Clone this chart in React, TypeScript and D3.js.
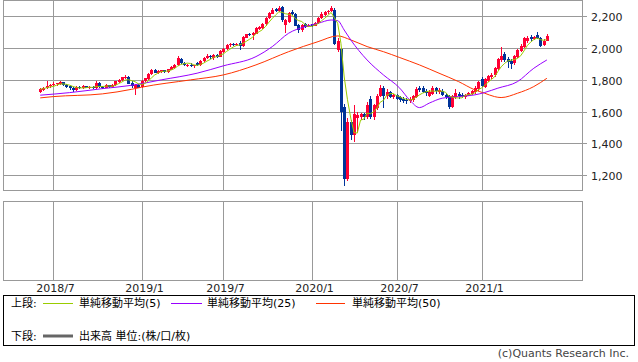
import React from "react";
import * as d3 from "d3";

// weekly candles, first one is the week of 2018/6/4
const firstWeek = new Date(2018, 5, 4);

const open = [1725,1738,1745,1758,1765,1770,1775,1785,1768,1758, 1748,1736,1755,1746,1758,1748,1755,1745,1780,1756,
  1748,1764,1752,1765,1788,1796,1812,1818,1778,1745, 1768,1752,1792,1805,1835,1862,1842,1850,1860,1848,
  1862,1875,1892,1932,1905,1888,1892,1885,1905,1890, 1918,1935,1952,1938,1955,1945,1975,1990,2015,2025,
  2015,2030,2010,2065,2088,2078,2090,2118,2125,2148, 2185,2215,2242,2230,2255,2145,2165,2225,2212,2142,
  2110,2148,2132,2148,2140,2155,2188,2205,2222,2230, 2240,1985,1995,1630,1175,1535,1452,1560,1565,1585,
  1565,1680,1565,1622,1700,1748,1695,1722,1690,1702, 1690,1680,1675,1665,1672,1692,1750,1745,1730,1700,
  1712,1745,1722,1732,1705,1700,1630,1690,1712,1705, 1690,1700,1712,1722,1742,1802,1755,1795,1815,1828,
  1868,1922,1962,1930,1920,1902,1942,1980,2005,2040, 2070,2055,2078,2062,2015,2045];

const high = [1745,1752,1792,1775,1785,1782,1790,1788,1772,1765, 1752,1760,1762,1765,1762,1760,1758,1790,1785,1762,
  1770,1768,1772,1795,1805,1818,1828,1822,1790,1772, 1775,1800,1812,1842,1870,1868,1858,1862,1864,1870,
  1885,1900,1948,1938,1910,1900,1902,1895,1912,1925, 1940,1960,1958,1962,1960,1985,2000,2025,2030,2028,
  2030,2040,2075,2090,2095,2100,2128,2135,2158,2195, 2225,2252,2250,2265,2260,2182,2228,2240,2218,2150,
  2150,2155,2150,2152,2160,2195,2222,2232,2240,2262, 2248,2060,2002,1650,1560,1548,1642,1600,1592,1592,
  1660,1700,1650,1712,1768,1760,1740,1728,1712,1708, 1700,1690,1685,1690,1705,1752,1762,1762,1742,1738,
  1762,1755,1748,1740,1715,1705,1702,1742,1720,1715, 1712,1725,1735,1762,1795,1815,1810,1830,1842,1880,
  1935,2005,1975,1940,1932,1958,1995,2022,2070,2075, 2082,2075,2100,2070,2055,2088];

const low = [1718,1730,1740,1750,1758,1762,1768,1760,1748,1738, 1725,1730,1742,1740,1745,1742,1740,1742,1750,1740,
  1745,1750,1748,1762,1782,1792,1805,1770,1748,1705, 1745,1748,1785,1800,1830,1840,1838,1845,1845,1845,
  1858,1870,1888,1900,1885,1880,1880,1875,1885,1885, 1912,1930,1932,1925,1935,1940,1970,1985,2008,2010,
  2010,1985,2005,2060,2075,2050,2085,2110,2118,2140, 2180,2210,2225,2225,2165,2095,2158,2205,2135,2095,
  2100,2125,2128,2132,2135,2150,2180,2198,2210,2225, 2015,1975,1475,1135,1165,1420,1410,1470,1545,1550,
  1555,1555,1548,1610,1690,1625,1680,1685,1680,1675, 1660,1655,1650,1655,1662,1685,1720,1715,1700,1690,
  1702,1712,1710,1698,1682,1618,1620,1680,1682,1685, 1680,1695,1702,1712,1732,1752,1745,1785,1805,1818,
  1858,1912,1912,1872,1865,1895,1935,1975,2000,2030, 2045,2050,2055,2005,2010,2040];

const close = [1740,1748,1762,1768,1772,1778,1785,1765,1755,1745, 1738,1755,1748,1758,1750,1756,1746,1782,1755,1748,
  1765,1755,1768,1790,1800,1815,1820,1775,1760,1768, 1750,1795,1808,1838,1862,1845,1852,1858,1850,1865,
  1878,1895,1935,1905,1890,1895,1886,1890,1890,1920, 1935,1950,1940,1955,1945,1978,1992,2018,2022,2015,
  2025,2010,2068,2085,2080,2092,2122,2128,2150,2188, 2220,2240,2232,2250,2175,2175,2220,2212,2140,2110,
  2145,2130,2145,2140,2155,2190,2215,2225,2232,2248, 2025,2042,1595,1175,1535,1450,1585,1580,1582,1565,
  1640,1565,1640,1700,1748,1700,1722,1692,1705,1680, 1670,1665,1668,1678,1700,1742,1735,1725,1718,1722,
  1745,1728,1738,1705,1690,1628,1695,1715,1700,1695, 1705,1718,1728,1745,1788,1762,1802,1822,1832,1872,
  1928,1950,1925,1910,1900,1948,1985,2010,2062,2065, 2055,2068,2060,2010,2045,2075];

// moving averages at these week indices
const ma25Weeks = [0,9,19,28,37,48,56,66,71,76,81,85,89,91,93,95,100,105,110,113,116,119,123,128,133,136,140,146,151,155];
const ma25 = [1703,1719,1744,1765,1799,1841,1887,1945,2008,2092,2133,2154,2175,2171,2112,2050,1924,1830,1747,1673,1625,1653,1684,1694,1705,1720,1747,1788,1872,1924];
const ma50Weeks = [0,4,19,28,31,46,56,66,76,85,91,95,100,105,110,116,122,128,133,136,139,141,146,151,155];
const ma50 = [1686,1694,1711,1740,1753,1799,1830,1893,1976,2039,2075,2050,2008,1976,1939,1893,1841,1788,1736,1715,1694,1688,1715,1757,1809];

const priceTicks = [1200, 1400, 1600, 1800, 2000, 2200];
const dateTicks = [new Date(2018, 6, 2), new Date(2019, 0, 7), new Date(2019, 6, 1), new Date(2020, 0, 6), new Date(2020, 6, 6), new Date(2021, 0, 4)];
const dateLabels = ["2018/7", "2019/1", "2019/7", "2020/1", "2020/7", "2021/1"];

const UP = "#ff0033";
const DOWN = "#003399";
const GRID = "#999999";
const FONT = "'DejaVu Sans', 'Noto Sans CJK JP', sans-serif";

export default function App() {
  const left = 3.5, right = 582.5;
  const top = 0.5, bottom = 190.5;
  const volTop = 201.5, volBottom = 280.5;

  const x = d3.scaleTime()
    .domain([dateTicks[0], dateTicks[5]])
    .range([53.3, 481.5]);
  const y = d3.scaleLinear().domain([1200, 2200]).range([175.3, 16]);

  const weeks = close.map((_, i) => d3.timeMonday.offset(firstWeek, i));
  const ma5 = close.map((_, i) => d3.mean(close.slice(Math.max(0, i - 4), i + 1)) as number);

  const line = d3.line<[Date, number]>()
    .x(d => x(d[0]))
    .y(d => y(d[1]));
  const smooth = d3.line<[Date, number]>()
    .x(d => x(d[0]))
    .y(d => y(d[1]))
    .curve(d3.curveMonotoneX);

  const ma5Path = line(weeks.map((w, i) => [w, ma5[i]]));
  const ma25Path = smooth(ma25Weeks.map((w, i) => [weeks[w], ma25[i]]));
  const ma50Path = smooth(ma50Weeks.map((w, i) => [weeks[w], ma50[i]]));

  return (
    <svg width={638} height={362} style={{ position: "absolute", left: 0, top: 0, background: "#fff" }}
      fontFamily={FONT} fontSize={11}>
      {/* upper panel */}
      <rect x={left} y={top} width={right - left} height={bottom - top} fill="#fff" stroke={GRID} />
      {priceTicks.map(t => {
        const py = Math.round(y(t)) + 0.5;
        return (
          <g key={t}>
            <line x1={left} x2={587} y1={py} y2={py} stroke={GRID} />
            <text x={591} y={py + 4} fill="#222">{d3.format(",")(t)}</text>
          </g>
        );
      })}
      {dateTicks.map((d, i) => {
        const px = Math.round(x(d)) + 0.5;
        return (
          <g key={i}>
            <line x1={px} x2={px} y1={top} y2={bottom} stroke={GRID} />
            <line x1={px} x2={px} y1={volTop} y2={volBottom} stroke={GRID} />
            <text x={px + 2} y={292} textAnchor="middle" fill="#222">{dateLabels[i]}</text>
          </g>
        );
      })}

      {/* candles */}
      <g shapeRendering="crispEdges">
        {close.map((c, i) => {
          const cx = Math.round(x(weeks[i]));
          const o = open[i];
          const col = c >= o ? UP : DOWN;
          const yTop = Math.round(y(Math.max(o, c)));
          const yBot = Math.round(y(Math.min(o, c)));
          return (
            <g key={i}>
              <line x1={cx + 0.5} x2={cx + 0.5} y1={y(high[i])} y2={y(low[i])} stroke={col} />
              <rect x={cx - 1} y={yTop} width={3} height={Math.max(1, yBot - yTop)} fill={col} />
            </g>
          );
        })}
      </g>

      <path d={ma50Path ?? ""} fill="none" stroke="#ff3300" strokeWidth={1} />
      <path d={ma25Path ?? ""} fill="none" stroke="#9900ff" strokeWidth={1} />
      <path d={ma5Path ?? ""} fill="none" stroke="#99cc00" strokeWidth={1} />

      {/* lower panel (volume) */}
      <rect x={left} y={volTop} width={right - left} height={volBottom - volTop} fill="none" stroke={GRID} />

      {/* legend */}
      <rect x={3.5} y={295.5} width={631} height={50} fill="#fff" stroke="#000" />
      <text x={11} y={307} fill="#000">上段:</text>
      <line x1={43} x2={73} y1={303.5} y2={303.5} stroke="#99cc00" />
      <text x={79} y={307} fill="#000">単純移動平均(5)</text>
      <line x1={171} x2={202} y1={303.5} y2={303.5} stroke="#9900ff" />
      <text x={207} y={307} fill="#000">単純移動平均(25)</text>
      <line x1={316} x2={345} y1={303.5} y2={303.5} stroke="#ff3300" />
      <text x={352} y={307} fill="#000">単純移動平均(50)</text>
      <text x={11} y={340} fill="#000">下段:</text>
      <line x1={43} x2={73} y1={336} y2={336} stroke="#666" strokeWidth={3} />
      <text x={79} y={340} fill="#000">出来高 単位:(株/口/枚)</text>

      <text x={629} y={357} textAnchor="end" fill="#444">(c)Quants Research Inc.</text>
    </svg>
  );
}
